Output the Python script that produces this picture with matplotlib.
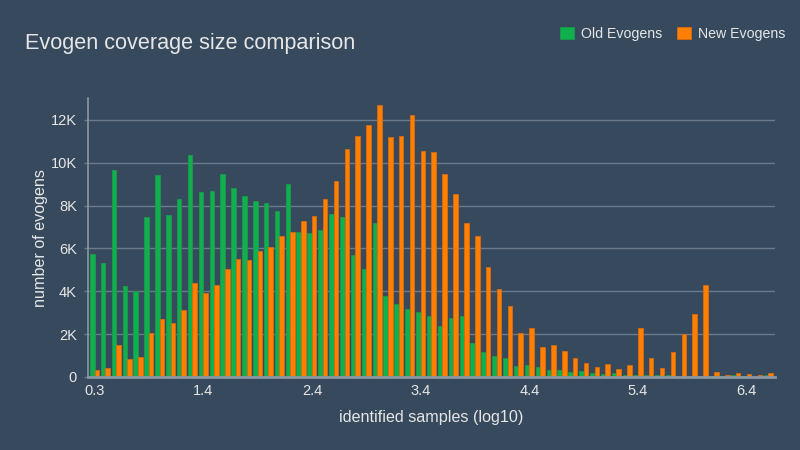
import matplotlib
matplotlib.use("Agg")
import matplotlib.pyplot as plt
import numpy as np

plt.rcParams['font.family'] = ['Liberation Sans', 'DejaVu Sans']

categories = ["0.3"] + [f"{v / 10:.1f}" for v in range(5, 67)]

old_evogens = [5750, 5320, 9680, 4250, 4000, 7460, 9410, 7570, 8320, 10380,
               8620, 8700, 9460, 8840, 8460, 8200, 8130, 7740, 8990, 6760,
               6700, 6870, 7590, 7480, 5680, 5040, 7210, 3790, 3400, 3170,
               3040, 2840, 2390, 2760, 2870, 1590, 1170, 970, 890, 530,
               560, 470, 330, 310, 230, 270, 170, 125, 190, 95,
               95, 95, 95, 110, 30, 30, 30, 30, 50, 95,
               30, 20, 95]

new_evogens = [330, 440, 1500, 840, 950, 2060, 2720, 2530, 3120, 4370,
               3900, 4280, 5060, 5500, 5450, 5900, 6060, 6590, 6760, 7270,
               7510, 8320, 9150, 10630, 11270, 11750, 12680, 11190, 11260, 12220,
               10550, 10490, 9480, 8540, 7180, 6560, 5150, 4090, 3310, 2050,
               2280, 1410, 1480, 1230, 890, 660, 470, 590, 390, 550,
               2310, 890, 440, 1160, 2000, 2920, 4280, 230, 80, 190,
               140, 95, 200]

tick_labels = ["0.3", "1.4", "2.4", "3.4", "4.4", "5.4", "6.4"]

BG = "#36495d"
GREEN = "#10b04f"
ORANGE = "#ff7f00"
GRID = "#6c7a89"
SPINE = "#8a96a3"
TEXT = "#e6e6e6"

fig = plt.figure(figsize=(8, 4.5), dpi=100, facecolor=BG)
ax = fig.add_axes([88 / 800, 1 - 377 / 450, (775 - 88) / 800, (377 - 98.5) / 450])
ax.set_facecolor(BG)

x = np.arange(len(categories))
w = 0.42
ax.bar(x - w / 2, old_evogens, width=w, color=GREEN, edgecolor="#1a9a4a",
       linewidth=0.6, label="Old Evogens", zorder=3)
ax.bar(x + w / 2, new_evogens, width=w, color=ORANGE, edgecolor="#d96a10",
       linewidth=0.6, label="New Evogens", zorder=3)

ax.set_xlim(-0.6, 62.6)
ax.set_ylim(0, 13000)
yt = [0, 2000, 4000, 6000, 8000, 10000, 12000]
ax.set_yticks(yt)
ax.set_yticklabels(["0"] + [f"{v // 1000}K" for v in yt[1:]])
tick_pos = [categories.index(t) for t in tick_labels]
ax.set_xticks(tick_pos)
ax.set_xticklabels(tick_labels)

ax.grid(axis="y", color=GRID, linewidth=1, zorder=0)
ax.tick_params(axis="y", colors=GRID, length=3, width=1, labelcolor=TEXT,
               labelsize=10.5, pad=5)
ax.tick_params(axis="x", length=0, labelcolor=TEXT, labelsize=10.5, pad=5)

for s in ["top", "right"]:
    ax.spines[s].set_visible(False)
ax.spines["left"].set_color(SPINE)
ax.spines["left"].set_linewidth(1.2)
ax.spines["bottom"].set_color(SPINE)
ax.spines["bottom"].set_linewidth(2)
ax.spines["bottom"].set_zorder(4)

ax.set_xlabel("identified samples (log10)", color=TEXT, fontsize=11.6, labelpad=9)
ax.set_ylabel("number of evogens", color=TEXT, fontsize=11.6, labelpad=2)

fig.text(25 / 800, 1 - 43 / 450, "Evogen coverage size comparison", color=TEXT,
         fontsize=15.6, va="center", ha="left")

leg = fig.legend(loc="upper right", bbox_to_anchor=(798 / 800, 1 - 14 / 450),
                 ncol=2, frameon=False, fontsize=10.2, labelcolor=TEXT,
                 handlelength=1.0, handleheight=1.0, handletextpad=0.5,
                 columnspacing=1.0)

fig.savefig("out.png", dpi=100, facecolor=BG)
